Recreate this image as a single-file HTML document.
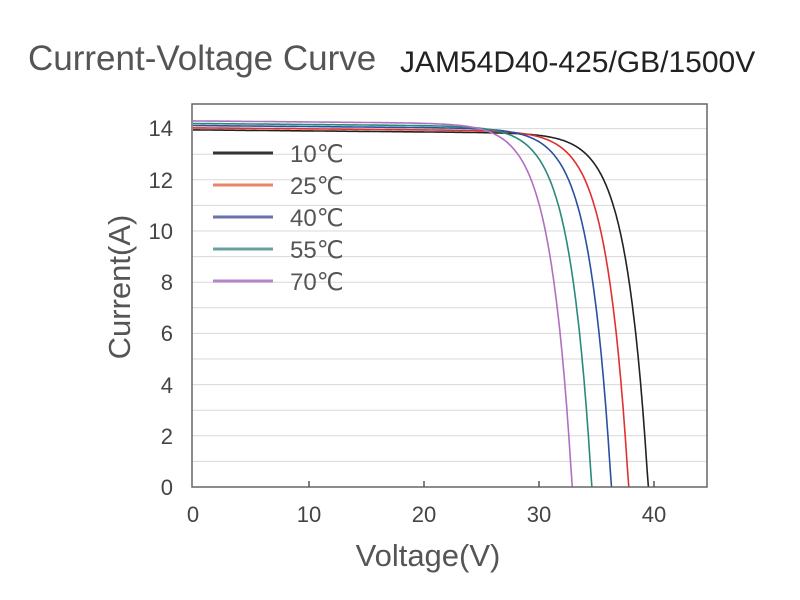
<!DOCTYPE html>
<html><head><meta charset="utf-8"><style>
body{margin:0;background:#fff;}
svg{display:block;font-family:"Liberation Sans",sans-serif;}
</style></head><body>
<svg id="s" width="800" height="600" xmlns="http://www.w3.org/2000/svg">
<text x="28" y="70" font-size="35" fill="#555">Current-Voltage Curve</text>
<text x="400" y="72" font-size="30" fill="#222">JAM54D40-425/GB/1500V</text>
<g id="grid" stroke="#d8d8d8" stroke-width="1"></g>
<g id="curves" fill="none" stroke-width="1.6"></g>
<rect x="192" y="104" width="515" height="383" fill="none" stroke="#666" stroke-width="1.5"/>
<g stroke="#555" stroke-width="1.5">
<line x1="309" y1="481" x2="309" y2="487"/><line x1="424" y1="481" x2="424" y2="487"/><line x1="539" y1="481" x2="539" y2="487"/><line x1="654" y1="481" x2="654" y2="487"/>
</g>
<g font-size="22" fill="#444" text-anchor="middle">
<text x="193" y="522">0</text><text x="309" y="522">10</text><text x="424" y="522">20</text><text x="539" y="522">30</text><text x="654" y="522">40</text>
</g>
<g font-size="22" fill="#444" text-anchor="end">
<text x="173" y="495">0</text><text x="173" y="444">2</text><text x="173" y="393">4</text><text x="173" y="341">6</text><text x="173" y="290">8</text><text x="173" y="239">10</text><text x="173" y="188">12</text><text x="173" y="136">14</text>
</g>
<text x="428" y="566" font-size="31" fill="#555" text-anchor="middle">Voltage(V)</text>
<text transform="translate(130,287) rotate(-90)" font-size="31" fill="#555" text-anchor="middle">Current(A)</text>
<g stroke-width="3">
<line x1="213" y1="153" x2="273" y2="153" stroke="#333"/>
<line x1="213" y1="185" x2="273" y2="185" stroke="#e8866a"/>
<line x1="213" y1="217" x2="273" y2="217" stroke="#6a72b0"/>
<line x1="213" y1="249" x2="273" y2="249" stroke="#6aa0a0"/>
<line x1="213" y1="281" x2="273" y2="281" stroke="#b585c8"/>
</g>
<g font-size="24" fill="#555">
<text x="290" y="162">10℃</text><text x="290" y="194">25℃</text><text x="290" y="226">40℃</text><text x="290" y="258">55℃</text><text x="290" y="290">70℃</text>
</g>
<script>
var g=document.getElementById('grid'),c=document.getElementById('curves'),ns='http://www.w3.org/2000/svg';
for(var i=1;i<=14;i++){var y=487-i*25.6;var l=document.createElementNS(ns,'line');l.setAttribute('x1',192);l.setAttribute('x2',707);l.setAttribute('y1',y);l.setAttribute('y2',y);g.appendChild(l);}
var S=[[39.5,13.95,'#222'],[37.8,14.03,'#e03030'],[36.3,14.12,'#2a50a0'],[34.6,14.2,'#2a8a7a'],[32.9,14.3,'#b070c0']];
S.forEach(function(s){var d='';for(var v=0;v<=s[0];v+=0.1){var I=s[1]*(1-Math.exp((v-s[0])/1.9))-0.004*v;if(I<0)I=0;d+=(d?'L':'M')+(193+v*11.53).toFixed(1)+','+(487-I*25.6).toFixed(1);}
d+='L'+(193+s[0]*11.53).toFixed(1)+',487';var p=document.createElementNS(ns,'path');p.setAttribute('d',d);p.setAttribute('stroke',s[2]);c.appendChild(p);});
</script>
</svg>
</body></html>
